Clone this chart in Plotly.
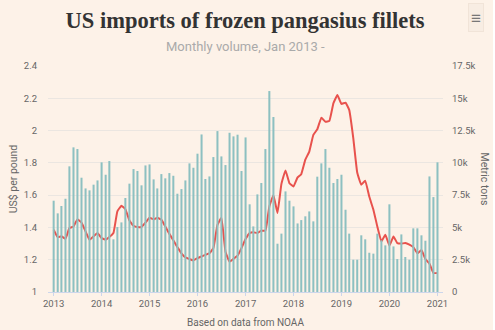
import plotly.graph_objects as go
import pandas as pd

months = pd.date_range("2013-01-01", "2021-01-01", freq="MS")

volume_tons = [
    7070, 6090, 6660, 7220, 9730, 11200, 11070, 8850, 8020, 7870, 8310, 8640,
    10040, 9080, 10140, 4080, 5030, 5390, 7280, 8390, 9520, 9370, 8260, 9800,
    9880, 8720, 8020, 9130, 8800, 9210, 9000, 7610, 7970, 8640, 9960, 9620,
    10710, 12200, 8750, 8950, 10450, 12460, 10500, 9830, 12330, 12050, 12180, 9370,
    11970, 6790, 5080, 7560, 8440, 11070, 15560, 13550, 3740, 4520, 7790, 7070,
    6630, 5310, 5570, 5860, 6240, 5470, 8930, 9960, 11070, 9620, 8440, 8750,
    9080, 6370, 4520, 2500, 2500, 4390, 4080, 3040, 2970, 4520, 4000, 3610,
    6790, 3530, 2550, 4460, 2710, 2500, 4930, 4930, 4390, 3970, 8950, 7350,
    10040,
]

price_usd_lb = [
    1.386, 1.34, 1.345, 1.33, 1.396, 1.406, 1.45, 1.43, 1.375, 1.324, 1.345, 1.365,
    1.334, 1.324, 1.34, 1.365, 1.50, 1.534, 1.513, 1.443, 1.41, 1.402, 1.404, 1.43,
    1.46, 1.45, 1.46, 1.447, 1.406, 1.36, 1.32, 1.278, 1.24, 1.214, 1.204, 1.196,
    1.21, 1.22, 1.23, 1.24, 1.272, 1.416, 1.46, 1.25, 1.188, 1.206, 1.225, 1.272,
    1.328, 1.365, 1.37, 1.365, 1.38, 1.38, 1.53, 1.60, 1.49, 1.67, 1.753, 1.674,
    1.654, 1.71, 1.73, 1.82, 1.87, 1.973, 2.008, 2.08, 2.055, 2.06, 2.17, 2.22,
    2.165, 2.173, 2.128, 1.953, 1.74, 1.664, 1.69, 1.59, 1.51, 1.406, 1.313, 1.355,
    1.287, 1.344, 1.303, 1.30, 1.303, 1.293, 1.278, 1.24, 1.26, 1.204, 1.175, 1.118,
    1.118,
]

year_ticks = pd.date_range("2013-01-01", "2021-01-01", freq="YS")
year_labels = [str(d.year) for d in year_ticks]
price_ticks = [1, 1.2, 1.4, 1.6, 1.8, 2, 2.2, 2.4]
price_labels = ["1", "1.2", "1.4", "1.6", "1.8", "2", "2.2", "2.4"]
ton_ticks = [0, 2500, 5000, 7500, 10000, 12500, 15000, 17500]
ton_labels = ["0", "2.5k", "5k", "7.5k", "10k", "12.5k", "15k", "17.5k"]

BG = "#fdf2e8"
SANS = "Roboto, sans-serif"
TICKFONT = dict(family=SANS, size=9.5, color="#666666")

fig = go.Figure()
fig.add_trace(go.Bar(
    x=months, y=volume_tons, yaxis="y2", name="Metric tons",
    marker=dict(color="#8dc0c1", line=dict(width=0)),
))
fig.add_trace(go.Scatter(
    x=months, y=price_usd_lb, yaxis="y", name="US$ per pound", mode="lines",
    line=dict(color="#e8524d", width=2, shape="spline", smoothing=0.3),
))

fig.update_layout(
    width=493, height=330,
    margin=dict(l=40, r=50, t=66, b=38),
    paper_bgcolor=BG, plot_bgcolor=BG,
    showlegend=False,
    bargap=0.45,
    title=dict(
        text="US imports of frozen pangasius fillets",
        x=0.497, xanchor="center", y=0.94, yanchor="middle",
        font=dict(family="Liberation Serif, serif", size=22.5, color="#333333", weight="bold"),
    ),
    xaxis=dict(
        type="date", range=["2012-11-19", "2021-02-12"],
        tickvals=year_ticks, ticktext=year_labels,
        showgrid=False, showline=True, linecolor="#ccd6eb", linewidth=1,
        ticks="outside", tickcolor="#ccd6eb", ticklen=3,
        tickfont=TICKFONT, zeroline=False,
    ),
    yaxis=dict(
        range=[1, 2.4], tickvals=price_ticks, ticktext=price_labels,
        showgrid=True, gridcolor="#ebe6e1", gridwidth=1, zeroline=False,
        tickfont=TICKFONT, ticks="", ticklabelstandoff=10,
        title=dict(text="US$ per pound", font=dict(family=SANS, size=10.5, color="#666666"), standoff=4),
    ),
    yaxis2=dict(
        range=[0, 17500], tickvals=ton_ticks, ticktext=ton_labels,
        overlaying="y", side="right", showgrid=False, zeroline=False,
        tickfont=TICKFONT, ticks="", ticklabelstandoff=8,
    ),
    annotations=[
        dict(text="Monthly volume, Jan 2013 -", x=0.5, xref="paper", y=1.0, yshift=20, yref="paper",
             yanchor="middle", showarrow=False,
             font=dict(family=SANS, size=13, color="#aaaaaa")),
        dict(text="Metric tons", xref="paper", x=1.0, xshift=50, yref="paper", y=0.5,
             textangle=90, showarrow=False,
             font=dict(family=SANS, size=10.5, color="#666666")),
        dict(text="Based on data from NOAA", xref="paper", x=0.5, yref="paper", y=0, yshift=-30,
             yanchor="middle", showarrow=False,
             font=dict(family=SANS, size=10, color="#666666")),
        dict(text="≡", xref="paper", x=1.0, xshift=33, xanchor="center", yref="paper", y=1.0, yshift=49,
             yanchor="middle", showarrow=False, font=dict(size=17, color="#777777"),
             bgcolor="#f8ede3", bordercolor="#f1e4d8", borderwidth=1, borderpad=2),
    ],
)

fig.write_html("out.html")
